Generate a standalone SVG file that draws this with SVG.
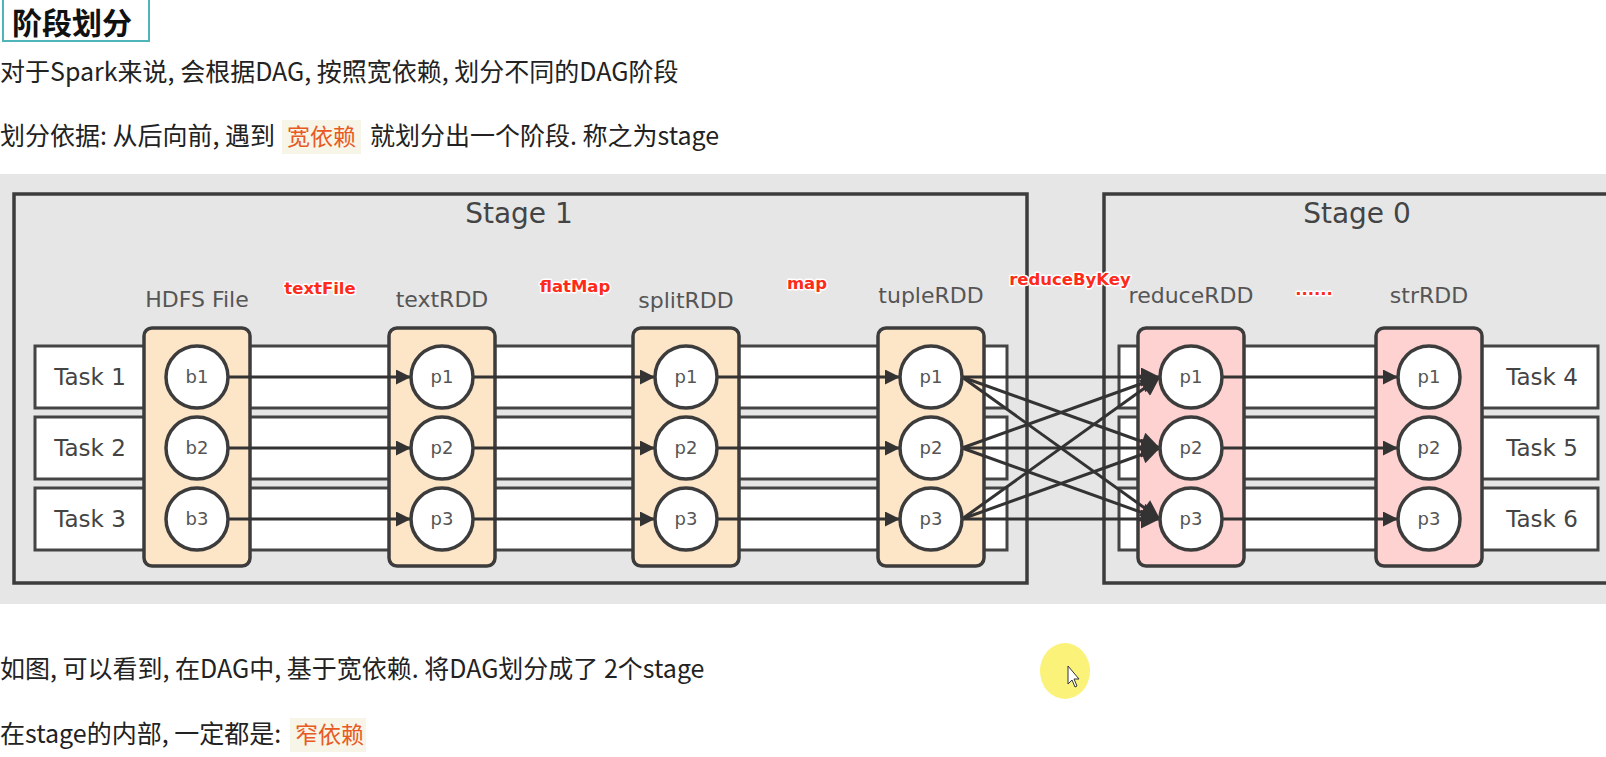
<svg xmlns="http://www.w3.org/2000/svg" width="1606" height="757" viewBox="0 0 1606 757">
<defs>
<style>
.cn{font-family:"Noto Sans CJK SC","Noto Sans",sans-serif;font-size:25px;fill:#222}
.hl{fill:#e85a23;font-size:23px}
.hlbg{fill:#f7f4e8}
.stage{fill:none;stroke:#3c3c3c;stroke-width:3.5}
.row{fill:#fff;stroke:#444;stroke-width:3}
.rdd{fill:#fde5c8;stroke:#3c3c3c;stroke-width:3.5}
.rdd2{fill:#fdd2d0;stroke:#3c3c3c;stroke-width:3.5}
.part{fill:#fff;stroke:#3c3c3c;stroke-width:3.5}
.pt{font-family:"DejaVu Sans",sans-serif;font-size:18px;fill:#555;text-anchor:middle}
.lbl{font-family:"DejaVu Sans",sans-serif;font-size:22px;fill:#555;text-anchor:middle}
.task{font-family:"DejaVu Sans",sans-serif;font-size:23px;fill:#444;text-anchor:middle}
.st{font-family:"DejaVu Sans",sans-serif;font-size:28px;fill:#444;text-anchor:middle}
.op{font-family:"DejaVu Sans",sans-serif;font-size:16.5px;font-weight:bold;fill:#ff2a1a;text-anchor:middle;stroke:#fff;stroke-width:3;paint-order:stroke;stroke-linejoin:round}
.ln{stroke:#333;stroke-width:3;fill:none}
.a{marker-end:url(#ah)}
.b{marker-end:url(#ahb)}
</style>
<marker id="ah" viewBox="0 0 10 10" refX="10" refY="5" markerWidth="19" markerHeight="15" markerUnits="userSpaceOnUse" orient="auto">
<path d="M0,0 L10,5 L0,10 z" fill="#333"/>
</marker>
<marker id="ahb" viewBox="0 0 10 10" refX="10" refY="5" markerWidth="25" markerHeight="19" markerUnits="userSpaceOnUse" orient="auto">
<path d="M0,0 L10,5 L0,10 z" fill="#333"/>
</marker>
</defs>

<g id="header">
<rect x="3" y="-2" width="146" height="43" fill="#fff" stroke="#4fb5b8" stroke-width="2"/>
<text x="12" y="34" font-family="'Noto Sans CJK SC',sans-serif" font-size="30" font-weight="bold" fill="#111">阶段划分</text>
</g>

<g id="intro">
<text class="cn" x="0" y="81">对于Spark来说, 会根据DAG, 按照宽依赖, 划分不同的DAG阶段</text>
<rect class="hlbg" x="282" y="120" width="79" height="34"/>
<text class="cn" x="0" y="145">划分依据: 从后向前, 遇到</text>
<text class="cn hl" x="287" y="145">宽依赖</text>
<text class="cn" x="370" y="145">就划分出一个阶段. 称之为stage</text>
</g>

<g id="diagram-bg">
<rect x="0" y="174" width="1606" height="430" fill="#e6e6e6"/>
</g>

<g id="stage1">
<rect class="stage" x="14" y="194" width="1013" height="389"/>
<text class="st" x="519" y="223">Stage 1</text>
</g>
<g id="stage0">
<rect class="stage" x="1104" y="194" width="540" height="389"/>
<text class="st" x="1357" y="223">Stage 0</text>
</g>

<g id="tasks">
<rect class="row" x="35" y="346" width="972" height="62"/>
<rect class="row" x="35" y="417" width="972" height="62"/>
<rect class="row" x="35" y="488" width="972" height="62"/>
<rect class="row" x="1119" y="346" width="479" height="62"/>
<rect class="row" x="1119" y="417" width="479" height="62"/>
<rect class="row" x="1119" y="488" width="479" height="62"/>
<text class="task" x="90" y="385">Task 1</text>
<text class="task" x="90" y="456">Task 2</text>
<text class="task" x="90" y="527">Task 3</text>
<text class="task" x="1542" y="385">Task 4</text>
<text class="task" x="1542" y="456">Task 5</text>
<text class="task" x="1542" y="527">Task 6</text>
</g>

<g id="hdfs">
<rect class="rdd" x="144" y="328" width="106" height="238" rx="8"/>
<text class="lbl" x="197" y="307">HDFS File</text>
</g>
<g id="textRDD">
<rect class="rdd" x="389" y="328" width="106" height="238" rx="8"/>
<text class="lbl" x="442" y="307">textRDD</text>
</g>
<g id="splitRDD">
<rect class="rdd" x="633" y="328" width="106" height="238" rx="8"/>
<text class="lbl" x="686" y="308">splitRDD</text>
</g>
<g id="tupleRDD">
<rect class="rdd" x="878" y="328" width="106" height="238" rx="8"/>
<text class="lbl" x="931" y="303">tupleRDD</text>
</g>
<g id="reduceRDD">
<rect class="rdd2" x="1138" y="328" width="106" height="238" rx="8"/>
<text class="lbl" x="1191" y="303">reduceRDD</text>
</g>
<g id="strRDD">
<rect class="rdd2" x="1376" y="328" width="106" height="238" rx="8"/>
<text class="lbl" x="1429" y="303">strRDD</text>
</g>

<g id="operations">
<text class="op" x="320" y="294">textFile</text>
<text class="op" x="575" y="292">flatMap</text>
<text class="op" x="807" y="289">map</text>
<text class="op" x="1070" y="285">reduceByKey</text>
<text class="op" x="1314" y="295">......</text>
</g>

<g id="connectors">
<line class="ln a" x1="228" y1="377" x2="411" y2="377"/>
<line class="ln a" x1="228" y1="448" x2="411" y2="448"/>
<line class="ln a" x1="228" y1="519" x2="411" y2="519"/>
<line class="ln a" x1="473" y1="377" x2="655" y2="377"/>
<line class="ln a" x1="473" y1="448" x2="655" y2="448"/>
<line class="ln a" x1="473" y1="519" x2="655" y2="519"/>
<line class="ln a" x1="717" y1="377" x2="900" y2="377"/>
<line class="ln a" x1="717" y1="448" x2="900" y2="448"/>
<line class="ln a" x1="717" y1="519" x2="900" y2="519"/>
<line class="ln b" x1="962" y1="377" x2="1160" y2="377"/>
<line class="ln b" x1="962" y1="377" x2="1160" y2="448"/>
<line class="ln b" x1="962" y1="377" x2="1160" y2="519"/>
<line class="ln b" x1="962" y1="448" x2="1160" y2="377"/>
<line class="ln b" x1="962" y1="448" x2="1160" y2="448"/>
<line class="ln b" x1="962" y1="448" x2="1160" y2="519"/>
<line class="ln b" x1="962" y1="519" x2="1160" y2="377"/>
<line class="ln b" x1="962" y1="519" x2="1160" y2="448"/>
<line class="ln b" x1="962" y1="519" x2="1160" y2="519"/>
<line class="ln a" x1="1222" y1="377" x2="1398" y2="377"/>
<line class="ln a" x1="1222" y1="448" x2="1398" y2="448"/>
<line class="ln a" x1="1222" y1="519" x2="1398" y2="519"/>
</g>

<g id="partitions">
<circle class="part" cx="197" cy="377" r="31"/><text class="pt" x="197" y="383">b1</text>
<circle class="part" cx="197" cy="448" r="31"/><text class="pt" x="197" y="454">b2</text>
<circle class="part" cx="197" cy="519" r="31"/><text class="pt" x="197" y="525">b3</text>
<circle class="part" cx="442" cy="377" r="31"/><text class="pt" x="442" y="383">p1</text>
<circle class="part" cx="442" cy="448" r="31"/><text class="pt" x="442" y="454">p2</text>
<circle class="part" cx="442" cy="519" r="31"/><text class="pt" x="442" y="525">p3</text>
<circle class="part" cx="686" cy="377" r="31"/><text class="pt" x="686" y="383">p1</text>
<circle class="part" cx="686" cy="448" r="31"/><text class="pt" x="686" y="454">p2</text>
<circle class="part" cx="686" cy="519" r="31"/><text class="pt" x="686" y="525">p3</text>
<circle class="part" cx="931" cy="377" r="31"/><text class="pt" x="931" y="383">p1</text>
<circle class="part" cx="931" cy="448" r="31"/><text class="pt" x="931" y="454">p2</text>
<circle class="part" cx="931" cy="519" r="31"/><text class="pt" x="931" y="525">p3</text>
<circle class="part" cx="1191" cy="377" r="31"/><text class="pt" x="1191" y="383">p1</text>
<circle class="part" cx="1191" cy="448" r="31"/><text class="pt" x="1191" y="454">p2</text>
<circle class="part" cx="1191" cy="519" r="31"/><text class="pt" x="1191" y="525">p3</text>
<circle class="part" cx="1429" cy="377" r="31"/><text class="pt" x="1429" y="383">p1</text>
<circle class="part" cx="1429" cy="448" r="31"/><text class="pt" x="1429" y="454">p2</text>
<circle class="part" cx="1429" cy="519" r="31"/><text class="pt" x="1429" y="525">p3</text>
</g>

<g id="conclusion">
<text class="cn" x="0" y="678">如图, 可以看到, 在DAG中, 基于宽依赖. 将DAG划分成了 2个stage</text>
<rect class="hlbg" x="290" y="718" width="76" height="34"/>
<text class="cn" x="0" y="743">在stage的内部, 一定都是:</text>
<text class="cn hl" x="295" y="743">窄依赖</text>
</g>

<g id="cursor">
<ellipse cx="1065" cy="671" rx="25" ry="28" fill="#fbf27a"/>
<path d="M1068,666 L1068,684 L1072,680 L1075,687 L1077,686 L1074,679 L1079,679 z" fill="#fff" stroke="#333" stroke-width="1"/>
</g>
</svg>
